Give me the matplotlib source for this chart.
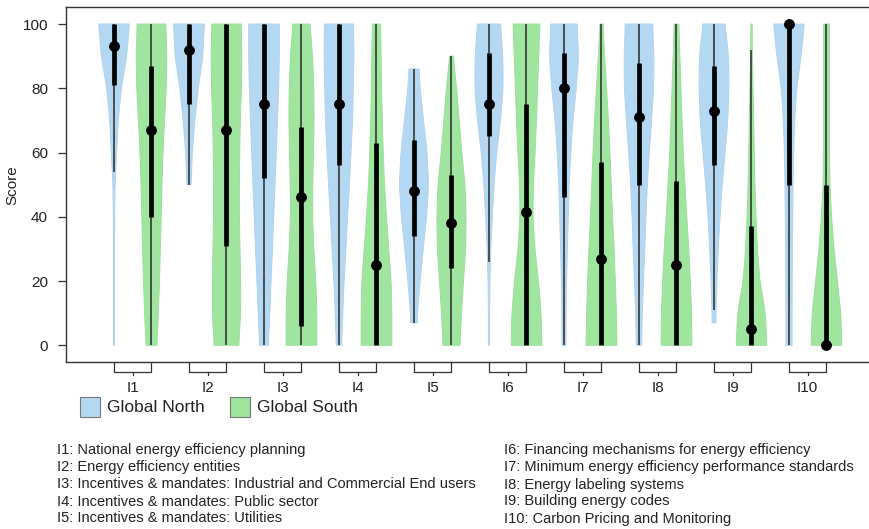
import numpy as np
import matplotlib
matplotlib.use("Agg")
import matplotlib.pyplot as plt
from matplotlib.patches import Rectangle
from matplotlib.lines import Line2D

plt.rcParams['font.family'] = ['Liberation Sans', 'DejaVu Sans']

# indicator names
groups = ["I1", "I2", "I3", "I4", "I5", "I6", "I7", "I8", "I9", "I10"]
notes_left = ["I1: National energy efficiency planning",
              "I2: Energy efficiency entities",
              "I3: Incentives & mandates: Industrial and Commercial End users",
              "I4: Incentives & mandates: Public sector",
              "I5: Incentives & mandates: Utilities"]
notes_right = ["I6: Financing mechanisms for energy efficiency",
               "I7: Minimum energy efficiency performance standards",
               "I8: Energy labeling systems",
               "I9: Building energy codes",
               "I10: Carbon Pricing and Monitoring"]

# box stats: whisker low, q1, median, q3, whisker high
north_stats = [[54, 81, 93, 100, 100], [50, 75, 92, 100, 100], [0, 52, 75, 100, 100],
               [0, 56, 75, 100, 100], [7, 34, 48, 64, 86], [26, 65, 75, 91, 100],
               [0, 46, 80, 91, 100], [0, 50, 71, 88, 100], [11, 56, 73, 87, 100],
               [0, 50, 100, 100, 100]]
south_stats = [[0, 40, 67, 87, 100], [0, 31, 67, 100, 100], [0, 6, 46, 68, 100],
               [0, 0, 25, 63, 100], [0, 24, 38, 53, 90], [0, 0, 41.5, 75, 100],
               [0, 0, 27, 57, 100], [0, 0, 25, 51, 100], [0, 0, 5, 37, 92],
               [0, 0, 0, 50, 100]]

# violin extent (lowest, highest score)
north_range = [[0, 100], [50, 100], [0, 100], [0, 100], [7, 86],
               [0, 100], [0, 100], [0, 100], [7, 100], [0, 100]]
south_range = [[0, 100], [0, 100], [0, 100], [0, 100], [0, 90],
               [0, 100], [0, 100], [0, 100], [0, 100], [0, 100]]

# relative density at scores 0, 10, ..., 100
levels = [0, 10, 20, 30, 40, 50, 60, 70, 80, 90, 100]
north_dens = [
    [0.03, 0.03, 0.03, 0.03, 0.04, 0.07, 0.17, 0.28, 0.47, 0.83, 1.0],
    [0.14, 0.14, 0.14, 0.14, 0.14, 0.14, 0.22, 0.38, 0.6, 0.9, 1.0],
    [0.28, 0.38, 0.46, 0.55, 0.63, 0.72, 0.8, 0.88, 0.95, 1.0, 1.0],
    [0.17, 0.25, 0.33, 0.45, 0.56, 0.68, 0.78, 0.88, 0.93, 0.97, 0.95],
    [0.17, 0.23, 0.4, 0.6, 0.82, 0.95, 0.85, 0.62, 0.4, 0.28, 0.28],
    [0.04, 0.04, 0.06, 0.12, 0.22, 0.33, 0.5, 0.75, 0.92, 0.9, 0.75],
    [0.13, 0.14, 0.17, 0.22, 0.28, 0.34, 0.44, 0.58, 0.8, 0.95, 0.85],
    [0.17, 0.22, 0.29, 0.38, 0.45, 0.54, 0.67, 0.82, 0.95, 0.97, 0.89],
    [0.12, 0.13, 0.19, 0.28, 0.39, 0.54, 0.72, 0.9, 0.97, 0.95, 0.72],
    [0.2, 0.2, 0.21, 0.22, 0.24, 0.26, 0.3, 0.37, 0.5, 0.79, 1.0],
]
south_dens = [
    [0.35, 0.45, 0.52, 0.58, 0.63, 0.68, 0.75, 0.85, 0.96, 1.0, 0.93],
    [0.8, 0.92, 0.92, 0.88, 0.84, 0.84, 0.86, 0.9, 0.97, 1.0, 0.95],
    [1.0, 1.0, 0.93, 0.8, 0.72, 0.73, 0.78, 0.82, 0.8, 0.72, 0.55],
    [1.0, 1.0, 0.95, 0.8, 0.65, 0.52, 0.44, 0.38, 0.33, 0.3, 0.27],
    [0.55, 0.65, 0.78, 0.92, 0.95, 0.88, 0.67, 0.5, 0.33, 0.12, 0.1],
    [1.0, 0.95, 0.78, 0.55, 0.42, 0.45, 0.56, 0.65, 0.72, 0.8, 0.87],
    [1.0, 0.97, 0.9, 0.82, 0.72, 0.63, 0.55, 0.45, 0.33, 0.2, 0.1],
    [1.0, 0.98, 0.9, 0.8, 0.67, 0.55, 0.44, 0.36, 0.29, 0.22, 0.15],
    [1.0, 0.9, 0.55, 0.38, 0.29, 0.22, 0.18, 0.14, 0.1, 0.06, 0.04],
    [1.0, 0.93, 0.71, 0.49, 0.33, 0.22, 0.2, 0.2, 0.2, 0.2, 0.2],
]

BLUE = "#b5d8f2"
BLUE_EDGE = "#b0d2f0"
GREEN = "#9fe59f"
GREEN_EDGE = "#9ae09a"
HALF = 0.41


def smooth(w, k=13):
    pad = np.pad(w, k // 2, mode="edge")
    return np.convolve(pad, np.ones(k) / k, mode="valid")


def violin(ax, pos, rng, dens, stats, fc, ec):
    y = np.linspace(rng[0], rng[1], 201)
    w = smooth(np.interp(y, levels, dens)) * HALF
    xs = np.concatenate([pos - w, (pos + w)[::-1]])
    ys = np.concatenate([y, y[::-1]])
    ax.fill(xs, ys, facecolor=fc, edgecolor=ec, lw=0.7, zorder=2)
    lo, q1, med, q3, hi = stats
    ax.plot([pos, pos], [lo, hi], color="#2a2a2a", lw=1.1, zorder=3, solid_capstyle="butt")
    ax.plot([pos, pos], [q1, q3], color="black", lw=3.4, zorder=4, solid_capstyle="butt")
    ax.plot([pos], [med], "o", color="black", ms=6.8, zorder=5, clip_on=False)


fig = plt.figure(figsize=(8.7, 5.29), dpi=100)
ax = fig.add_axes([0.0755, 0.3151, 0.9245, 0.6711])

for i in range(len(groups)):
    pn = 1 + 2 * i
    ps = 2 + 2 * i
    violin(ax, pn, north_range[i], north_dens[i], north_stats[i], BLUE, BLUE_EDGE)
    violin(ax, ps, south_range[i], south_dens[i], south_stats[i], GREEN, GREEN_EDGE)

ax.set_xlim(-0.288, 21.16)
ax.set_ylim(-5.3, 105.2)
ax.set_yticks([0, 20, 40, 60, 80, 100])
ax.tick_params(axis="y", labelsize=11, length=5.8, width=0.9, pad=7, color="#333333",
               labelcolor="#222222")
ax.set_xticks([])
for s in ["left", "bottom", "top"]:
    ax.spines[s].set_linewidth(1.0)
    ax.spines[s].set_color("#333333")
ax.spines["right"].set_visible(False)
ax.set_ylabel("Score", fontsize=11, labelpad=2, color="#222222")

# bracket ticks under each pair
trans = ax.get_xaxis_transform()
for i, g in enumerate(groups):
    a, b = 1 + 2 * i, 2 + 2 * i
    c = (a + b) / 2
    ax.add_line(Line2D([a, a, b, b], [0, -0.0265, -0.0265, 0], transform=trans,
                       color="#333333", lw=0.9, clip_on=False))
    ax.add_line(Line2D([c, c], [-0.0265, -0.036], transform=trans,
                       color="#333333", lw=0.9, clip_on=False))
    ax.text(c, -0.0735, g, transform=trans, ha="center", va="center", fontsize=11,
            color="#222222")

# legend
H = 529.0
W = 870.0
fig.add_artist(Rectangle((80 / W, 1 - 417 / H), 20 / W, 20 / H, transform=fig.transFigure,
                         facecolor=BLUE, edgecolor="#777777", lw=0.8))
fig.text(107 / W, 1 - 408 / H, "Global North", fontsize=12.5, va="center", ha="left",
         color="#222222")
fig.add_artist(Rectangle((230 / W, 1 - 417 / H), 20 / W, 20 / H, transform=fig.transFigure,
                         facecolor=GREEN, edgecolor="#777777", lw=0.8))
fig.text(257 / W, 1 - 408 / H, "Global South", fontsize=12.5, va="center", ha="left",
         color="#222222")

# indicator notes
line_y = [450, 467, 484.5, 501.5, 518.5]
for t, yy in zip(notes_left, line_y):
    fig.text(57 / W, 1 - yy / H, t, fontsize=10.5, va="center", ha="left", color="#222222")
for t, yy in zip(notes_right, line_y):
    fig.text(504 / W, 1 - yy / H, t, fontsize=10.5, va="center", ha="left", color="#222222")

fig.savefig("out.png", dpi=100)
